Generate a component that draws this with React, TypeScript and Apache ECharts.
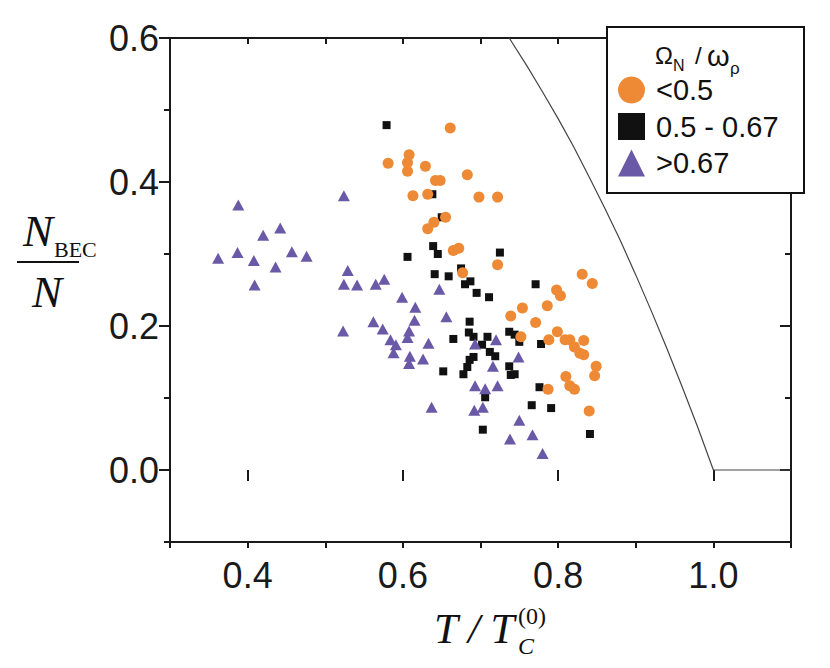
import React, { useEffect, useRef } from "react";
import * as echarts from "echarts";

// [T/Tc, N_BEC/N]
const lowRatio: number[][] = [
  [0.581, 0.426], [0.661, 0.475], [0.608, 0.438], [0.606, 0.427], [0.606, 0.415],
  [0.629, 0.422], [0.683, 0.41], [0.642, 0.402], [0.648, 0.402], [0.613, 0.381],
  [0.632, 0.383], [0.698, 0.379], [0.722, 0.379], [0.655, 0.351], [0.64, 0.344],
  [0.632, 0.335], [0.665, 0.305], [0.672, 0.308], [0.722, 0.285], [0.677, 0.274],
  [0.831, 0.272], [0.844, 0.259], [0.798, 0.25], [0.803, 0.242], [0.754, 0.225],
  [0.739, 0.214], [0.786, 0.228], [0.771, 0.205], [0.752, 0.185], [0.788, 0.181],
  [0.799, 0.192], [0.809, 0.181], [0.815, 0.181], [0.833, 0.18], [0.821, 0.171],
  [0.828, 0.162], [0.833, 0.16], [0.849, 0.144], [0.847, 0.131], [0.81, 0.13],
  [0.815, 0.117], [0.821, 0.112], [0.787, 0.112], [0.84, 0.082],
];

const midRatio: number[][] = [
  [0.579, 0.479], [0.638, 0.383], [0.65, 0.351], [0.639, 0.311], [0.645, 0.3],
  [0.606, 0.296], [0.725, 0.302], [0.675, 0.28], [0.641, 0.272], [0.659, 0.269],
  [0.68, 0.258], [0.687, 0.262], [0.695, 0.246], [0.711, 0.24], [0.771, 0.258],
  [0.686, 0.206], [0.665, 0.182], [0.685, 0.191], [0.691, 0.185], [0.709, 0.185],
  [0.737, 0.192], [0.744, 0.188], [0.75, 0.178], [0.778, 0.175], [0.702, 0.174],
  [0.712, 0.164], [0.719, 0.158], [0.691, 0.157], [0.686, 0.153], [0.683, 0.143],
  [0.678, 0.133], [0.652, 0.137], [0.737, 0.144], [0.739, 0.132], [0.744, 0.133],
  [0.706, 0.101], [0.776, 0.115], [0.766, 0.09], [0.791, 0.086], [0.703, 0.056],
  [0.841, 0.05],
];

const highRatio: number[][] = [
  [0.388, 0.368], [0.524, 0.381], [0.442, 0.336], [0.42, 0.326], [0.362, 0.294],
  [0.387, 0.302], [0.408, 0.291], [0.436, 0.282], [0.457, 0.303], [0.476, 0.297],
  [0.409, 0.257], [0.529, 0.277], [0.524, 0.258], [0.541, 0.257], [0.565, 0.258],
  [0.576, 0.265], [0.599, 0.24], [0.523, 0.193], [0.562, 0.206], [0.574, 0.196],
  [0.584, 0.181], [0.591, 0.174], [0.588, 0.163], [0.647, 0.251], [0.616, 0.226],
  [0.615, 0.208], [0.656, 0.213], [0.608, 0.193], [0.606, 0.184], [0.633, 0.176],
  [0.609, 0.158], [0.608, 0.148], [0.626, 0.154], [0.693, 0.175], [0.72, 0.181],
  [0.749, 0.157], [0.716, 0.144], [0.693, 0.117], [0.706, 0.113], [0.722, 0.117],
  [0.637, 0.087], [0.692, 0.083], [0.703, 0.087], [0.75, 0.069], [0.738, 0.043],
  [0.767, 0.049], [0.78, 0.023],
];

// ideal-gas condensate fraction line
const idealCurve: number[][] = [
  [0.737, 0.6], [0.76, 0.561], [0.78, 0.525], [0.8, 0.488], [0.82, 0.449],
  [0.84, 0.407], [0.86, 0.364], [0.88, 0.319], [0.9, 0.271], [0.92, 0.221],
  [0.94, 0.169], [0.96, 0.115], [0.98, 0.059], [1.0, 0.0], [1.1, 0.0],
];

const legendNames = ["<0.5", "0.5 - 0.67", ">0.67"];

const AX = "#1a1a1a";
const ORANGE = "#EE8A35";
const PURPLE = "#6A59A6";
const BLACK = "#111111";
const SANS = '"Liberation Sans", Arial, sans-serif';
const SERIF = '"Liberation Serif", "Times New Roman", serif';

const G0 = { left: 170, top: 38, width: 621, height: 504 };
const STEPX = G0.width / 8;
const STEPY = G0.height / 7;
const G1 = { left: G0.left + STEPX, top: G0.top, width: STEPX * 6, height: STEPY * 6 };

function baseAxis(extra: any) {
  return {
    type: "value",
    splitLine: { show: false },
    axisLine: { show: true, onZero: false, lineStyle: { color: AX, width: 2 } },
    axisTick: { show: true, lineStyle: { color: AX, width: 2 } },
    axisLabel: { show: false },
    ...extra,
  };
}

export default function App() {
  const ref = useRef<HTMLDivElement>(null);
  useEffect(() => {
    const chart = echarts.init(ref.current!, null, { renderer: "svg" });
    const option: any = {
      animation: false,
      backgroundColor: "#fff",
      grid: [
        { ...G0, containLabel: false },
        { ...G1, containLabel: false },
      ],
      xAxis: [
        baseAxis({ gridIndex: 0, min: 0.3, max: 1.1, interval: 0.1, position: "bottom",
          axisTick: { show: true, inside: false, length: 6, lineStyle: { color: AX, width: 2 } } }),
        baseAxis({ gridIndex: 0, min: 0.3, max: 1.1, interval: 0.1, position: "top",
          axisTick: { show: true, inside: true, length: 6, lineStyle: { color: AX, width: 2 } } }),
        baseAxis({ gridIndex: 1, min: 0.4, max: 1.0, interval: 0.2, position: "bottom", offset: STEPY,
          axisLine: { show: false },
          axisTick: { show: true, inside: false, length: 11, lineStyle: { color: AX, width: 2 } },
          axisLabel: { show: true, fontSize: 36, color: AX, fontFamily: SANS, margin: 15,
            formatter: (v: number) => v.toFixed(1) } }),
        baseAxis({ gridIndex: 1, min: 0.4, max: 1.0, interval: 0.2, position: "top",
          axisLine: { show: false },
          axisTick: { show: true, inside: true, length: 11, lineStyle: { color: AX, width: 2 } } }),
      ],
      yAxis: [
        baseAxis({ gridIndex: 0, min: -0.1, max: 0.6, interval: 0.1, position: "left",
          axisTick: { show: true, inside: false, length: 6, lineStyle: { color: AX, width: 2 } } }),
        baseAxis({ gridIndex: 0, min: -0.1, max: 0.6, interval: 0.1, position: "right",
          axisTick: { show: true, inside: true, length: 6, lineStyle: { color: AX, width: 2 } } }),
        baseAxis({ gridIndex: 1, min: 0, max: 0.6, interval: 0.2, position: "left", offset: STEPX,
          axisLine: { show: false },
          axisTick: { show: true, inside: false, length: 11, lineStyle: { color: AX, width: 2 } },
          axisLabel: { show: true, fontSize: 36, color: AX, fontFamily: SANS, margin: 11,
            formatter: (v: number) => v.toFixed(1) } }),
        baseAxis({ gridIndex: 1, min: 0, max: 0.6, interval: 0.2, position: "right", offset: STEPX,
          axisLine: { show: false },
          axisTick: { show: true, inside: true, length: 11, lineStyle: { color: AX, width: 2 } } }),
      ],
      legend: {
        data: legendNames,
        orient: "vertical",
        left: 613,
        top: 70.5,
        itemWidth: 27,
        itemHeight: 27,
        itemGap: 7.5,
        selectedMode: false,
        z: 10,
        itemStyle: { opacity: 1 },
        textStyle: { fontSize: 29, color: "#111", fontFamily: SANS, padding: [0, 0, 0, 6] },
      },
      graphic: [
        { type: "rect", z: 5, shape: { x: 607, y: 27, width: 197, height: 166 },
          style: { fill: "#fff", stroke: "#111", lineWidth: 2 } },
        { type: "text", z: 11, x: 655, y: 55, style: { text: "Ω", font: `24px ${SANS}`, fill: "#111", verticalAlign: "middle" } },
        { type: "text", z: 11, x: 673, y: 65.5, style: { text: "N", font: `16px ${SANS}`, fill: "#111", verticalAlign: "middle" } },
        { type: "text", z: 11, x: 695, y: 55, style: { text: "/", font: `24px ${SANS}`, fill: "#111", verticalAlign: "middle" } },
        { type: "text", z: 11, x: 707, y: 56, style: { text: "ω", font: `29px ${SANS}`, fill: "#111", verticalAlign: "middle" } },
        { type: "text", z: 11, x: 730, y: 68.5, style: { text: "ρ", font: `17px ${SANS}`, fill: "#111", verticalAlign: "middle" } },
        // y axis name: N_BEC / N
        { type: "text", x: 38, y: 231, style: { text: "N", font: `italic 45px ${SERIF}`, fill: "#111", align: "center", verticalAlign: "middle" } },
        { type: "text", x: 54, y: 249.5, style: { text: "BEC", font: `22px ${SERIF}`, fill: "#111", verticalAlign: "middle" } },
        { type: "line", shape: { x1: 17, y1: 262, x2: 79, y2: 262 }, style: { stroke: "#111", lineWidth: 2 } },
        { type: "text", x: 47, y: 292, style: { text: "N", font: `italic 45px ${SERIF}`, fill: "#111", align: "center", verticalAlign: "middle" } },
        // x axis name: T / T_C^(0)
        { type: "text", x: 434, y: 628, style: { text: "T / T", font: `italic 43px ${SERIF}`, fill: "#111", verticalAlign: "middle" } },
        { type: "text", x: 518, y: 616, style: { text: "(0)", font: `24px ${SERIF}`, fill: "#111", verticalAlign: "middle" } },
        { type: "text", x: 518, y: 646, style: { text: "C", font: `italic 24px ${SERIF}`, fill: "#111", verticalAlign: "middle" } },
      ],
      series: [
        { type: "line", name: "ideal", data: idealCurve, xAxisIndex: 0, yAxisIndex: 0,
          showSymbol: false, symbol: "none", lineStyle: { color: "#444", width: 1.2 }, silent: true, z: 1 },
        { type: "scatter", name: legendNames[1], data: midRatio, xAxisIndex: 0, yAxisIndex: 0,
          symbol: "rect", symbolSize: 8, itemStyle: { color: BLACK, opacity: 1 } },
        { type: "scatter", name: legendNames[2], data: highRatio, xAxisIndex: 0, yAxisIndex: 0,
          symbol: "triangle", symbolSize: [12, 11], itemStyle: { color: PURPLE, opacity: 1 } },
        { type: "scatter", name: legendNames[0], data: lowRatio, xAxisIndex: 0, yAxisIndex: 0,
          symbol: "circle", symbolSize: 11, itemStyle: { color: ORANGE, opacity: 1 } },
      ],
    };
    chart.setOption(option);
    return () => chart.dispose();
  }, []);
  return (
    <div
      ref={ref}
      style={{ position: "absolute", left: 0, top: 0, width: 830, height: 668, background: "#fff" }}
    />
  );
}
